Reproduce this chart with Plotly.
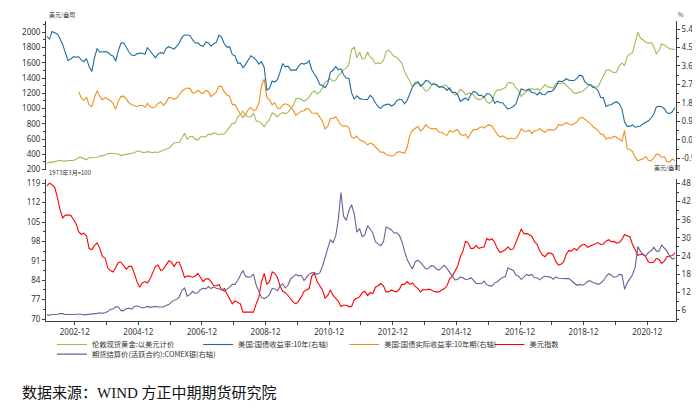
import plotly.graph_objects as go

# ---------------- data (monthly) ----------------
months = [f"{y}-{m:02d}-15" for y in range(2002, 2022) for m in range(1, 13)][:238]
tips_months = months[12:]

gold = [
    282, 296, 294, 303, 314, 321, 313, 310, 319, 317, 319, 333,
    357, 359, 340, 328, 355, 356, 351, 360, 379, 379, 389, 407,
    414, 405, 406, 404, 383, 392, 398, 400, 405, 420, 439, 442,
    424, 423, 434, 429, 422, 430, 424, 438, 456, 470, 476, 510,
    549, 555, 557, 610, 676, 596, 633, 632, 598, 586, 628, 629,
    631, 665, 655, 680, 668, 656, 665, 665, 713, 754, 806, 803,
    889, 922, 968, 909, 888, 890, 939, 839, 830, 806, 760, 816,
    858, 943, 924, 890, 928, 946, 934, 949, 996, 1044, 1127, 1135,
    1118, 1095, 1114, 1149, 1205, 1232, 1193, 1215, 1271, 1343, 1370, 1391,
    1356, 1373, 1424, 1474, 1510, 1529, 1573, 1770, 1810, 1665, 1739, 1652,
    1656, 1742, 1673, 1650, 1585, 1596, 1594, 1626, 1750, 1765, 1722, 1685,
    1671, 1627, 1593, 1487, 1414, 1343, 1286, 1347, 1349, 1316, 1275, 1225,
    1244, 1300, 1336, 1299, 1288, 1279, 1311, 1296, 1239, 1222, 1176, 1200,
    1251, 1227, 1179, 1198, 1199, 1181, 1131, 1117, 1125, 1157, 1086, 1068,
    1097, 1200, 1246, 1242, 1260, 1276, 1337, 1341, 1326, 1267, 1238, 1157,
    1192, 1234, 1231, 1266, 1246, 1260, 1236, 1283, 1314, 1280, 1282, 1265,
    1331, 1331, 1325, 1335, 1303, 1282, 1238, 1202, 1199, 1215, 1221, 1250,
    1291, 1320, 1300, 1285, 1284, 1359, 1413, 1500, 1510, 1495, 1471, 1479,
    1560, 1597, 1560, 1683, 1716, 1732, 1847, 2000, 1921, 1900, 1866, 1858,
    1867, 1808, 1718, 1760, 1850, 1834, 1807, 1785, 1776, 1777,
]

ust10 = [
    5.04, 4.91, 5.28, 5.21, 5.16, 4.93, 4.65, 4.26, 3.87, 3.94, 4.05, 4.03,
    4.05, 3.90, 3.81, 3.96, 3.57, 3.33, 3.98, 4.45, 4.27, 4.29, 4.30, 4.27,
    4.15, 4.08, 3.83, 4.35, 4.72, 4.73, 4.50, 4.28, 4.13, 4.10, 4.19, 4.23,
    4.22, 4.17, 4.50, 4.34, 4.14, 4.00, 4.18, 4.26, 4.20, 4.46, 4.54, 4.47,
    4.42, 4.57, 4.72, 4.99, 5.11, 5.11, 5.09, 4.88, 4.72, 4.73, 4.60, 4.56,
    4.76, 4.72, 4.56, 4.69, 4.75, 5.10, 5.00, 4.67, 4.52, 4.53, 4.15, 4.10,
    3.74, 3.74, 3.51, 3.68, 3.88, 4.10, 4.01, 3.89, 3.69, 3.81, 3.53, 2.42,
    2.52, 2.87, 2.82, 2.93, 3.29, 3.72, 3.56, 3.59, 3.40, 3.39, 3.40, 3.59,
    3.73, 3.69, 3.73, 3.85, 3.42, 3.20, 3.01, 2.70, 2.65, 2.54, 2.76, 3.29,
    3.39, 3.58, 3.41, 3.46, 3.17, 3.00, 3.00, 2.30, 1.98, 2.15, 2.01, 1.98,
    1.97, 1.97, 2.17, 2.05, 1.80, 1.62, 1.53, 1.68, 1.72, 1.75, 1.65, 1.72,
    1.91, 1.98, 1.96, 1.76, 1.93, 2.30, 2.58, 2.74, 2.81, 2.62, 2.72, 2.90,
    2.86, 2.71, 2.72, 2.71, 2.56, 2.60, 2.54, 2.42, 2.53, 2.30, 2.33, 2.21,
    1.88, 1.98, 2.04, 1.94, 2.20, 2.36, 2.32, 2.17, 2.17, 2.07, 2.26, 2.24,
    2.09, 1.78, 1.89, 1.81, 1.81, 1.64, 1.50, 1.56, 1.63, 1.76, 2.14, 2.49,
    2.43, 2.42, 2.48, 2.30, 2.30, 2.19, 2.32, 2.21, 2.20, 2.36, 2.35, 2.40,
    2.58, 2.86, 2.84, 2.87, 2.98, 2.91, 2.89, 2.89, 3.00, 3.15, 3.12, 2.83,
    2.71, 2.68, 2.57, 2.53, 2.40, 2.07, 2.06, 1.63, 1.70, 1.71, 1.81, 1.86,
    1.76, 1.50, 0.87, 0.66, 0.67, 0.73, 0.62, 0.65, 0.68, 0.79, 0.87, 0.93,
    1.08, 1.26, 1.61, 1.64, 1.62, 1.52, 1.32, 1.28, 1.37, 1.58,
]

tips10 = [
    2.35, 2.03, 1.93, 2.09, 1.70, 1.62, 2.05, 2.40, 2.12, 1.96, 2.06, 2.00,
    1.91, 1.77, 1.49, 1.89, 2.12, 2.13, 2.00, 1.79, 1.71, 1.66, 1.63, 1.68,
    1.69, 1.59, 1.78, 1.62, 1.56, 1.62, 1.79, 1.85, 1.68, 1.83, 2.06, 2.05,
    1.97, 2.05, 2.20, 2.39, 2.47, 2.53, 2.51, 2.29, 2.30, 2.42, 2.31, 2.26,
    2.41, 2.35, 2.11, 2.21, 2.33, 2.62, 2.60, 2.34, 2.17, 2.13, 1.72, 1.72,
    1.46, 1.25, 1.10, 1.24, 1.48, 1.58, 1.42, 1.50, 1.77, 2.65, 2.95, 2.07,
    1.95, 1.71, 1.82, 1.55, 1.52, 1.70, 1.76, 1.71, 1.60, 1.45, 1.19, 1.31,
    1.40, 1.42, 1.53, 1.51, 1.31, 1.30, 1.31, 1.11, 0.91, 0.53, 0.67, 1.04,
    1.05, 1.13, 0.94, 0.73, 0.67, 0.69, 0.60, 0.14, 0.08, 0.19, 0.01, -0.04,
    -0.11, -0.25, -0.14, -0.21, -0.34, -0.50, -0.60, -0.59, -0.71, -0.75, -0.78, -0.76,
    -0.61, -0.57, -0.60, -0.65, -0.36, 0.25, 0.46, 0.55, 0.66, 0.43, 0.55, 0.74,
    0.61, 0.55, 0.56, 0.54, 0.37, 0.37, 0.28, 0.22, 0.46, 0.38, 0.45, 0.51,
    0.27, 0.22, 0.28, 0.08, 0.33, 0.50, 0.50, 0.56, 0.65, 0.58, 0.69, 0.73,
    0.67, 0.46, 0.27, 0.14, 0.20, 0.12, 0.04, 0.09, 0.06, 0.07, 0.27, 0.54,
    0.42, 0.42, 0.47, 0.32, 0.44, 0.46, 0.55, 0.45, 0.37, 0.49, 0.50, 0.46,
    0.53, 0.74, 0.71, 0.75, 0.84, 0.77, 0.73, 0.79, 0.88, 1.06, 1.10, 1.01,
    0.91, 0.81, 0.65, 0.55, 0.47, 0.28, 0.27, 0.04, 0.10, 0.08, 0.18, 0.13,
    0.04, -0.06, 0.45, -0.44, -0.45, -0.57, -0.85, -1.02, -0.97, -0.92, -0.81, -1.00,
    -1.02, -0.88, -0.69, -0.71, -0.84, -0.82, -1.06, -1.07, -0.93, -1.01,
]

dxy = [
    118.0, 119.0, 118.5, 117.5, 114.0, 109.5, 106.5, 107.5, 107.5, 107.5, 106.0, 104.5,
    101.5, 100.5, 101.0, 100.0, 95.5, 95.0, 96.5, 97.5, 95.5, 92.5, 92.0, 88.5,
    87.5, 87.0, 88.5, 90.5, 90.5, 89.0, 88.0, 89.0, 89.0, 86.5, 83.5, 81.5,
    83.0, 83.5, 83.0, 84.5, 86.5, 89.0, 89.5, 87.5, 88.0, 89.5, 91.0, 90.5,
    89.0, 90.5, 90.5, 88.0, 85.0, 85.5, 85.5, 85.0, 85.5, 86.5, 85.0, 83.5,
    84.5, 84.5, 83.5, 82.0, 82.0, 82.5, 80.5, 81.0, 79.0, 77.5, 75.5, 76.5,
    76.0, 75.5, 72.5, 72.5, 72.5, 72.5, 72.5, 75.5, 78.0, 83.5, 86.5, 82.5,
    83.5, 87.0, 86.5, 85.0, 82.0, 80.0, 79.5, 78.5, 77.0, 76.0, 75.5, 76.5,
    78.0, 80.0, 80.5, 81.0, 85.5, 86.5, 83.5, 82.0, 80.5, 77.5, 78.5, 80.5,
    78.5, 77.5, 76.5, 74.5, 75.0, 75.0, 74.5, 74.5, 77.0, 77.5, 78.0, 79.5,
    80.0, 78.5, 79.5, 79.2, 81.5, 82.0, 82.8, 82.0, 79.8, 79.8, 80.5, 80.0,
    79.8, 80.8, 82.5, 82.5, 83.5, 82.5, 83.0, 81.8, 81.0, 79.8, 80.7, 80.5,
    80.8, 80.5, 80.0, 79.8, 79.8, 80.5, 80.9, 82.0, 84.5, 85.5, 87.5, 89.0,
    92.5, 94.5, 98.0, 97.5, 95.5, 95.5, 96.5, 95.5, 95.8, 96.0, 99.0, 98.5,
    99.0, 97.5, 95.5, 94.0, 94.5, 95.0, 96.0, 95.0, 95.3, 97.5, 100.0, 102.5,
    100.8, 100.8, 100.5, 99.8, 98.0, 96.9, 94.6, 93.1, 92.5, 93.8, 93.8, 93.2,
    90.8, 89.5, 89.8, 90.6, 93.4, 94.7, 94.6, 95.5, 94.8, 96.0, 96.8, 96.9,
    95.9, 96.4, 96.7, 97.3, 97.6, 96.9, 97.1, 98.1, 98.6, 97.9, 98.0, 97.4,
    97.6, 98.8, 100.5, 100.0, 99.7, 96.9, 95.0, 93.0, 93.3, 93.4, 92.4, 90.6,
    90.3, 90.6, 91.9, 91.5, 90.1, 90.9, 92.5, 92.8, 92.9, 93.9,
]

silver = [
    4.5, 4.4, 4.6, 4.6, 4.7, 4.9, 4.9, 4.6, 4.6, 4.4, 4.6, 4.7,
    4.8, 4.7, 4.5, 4.6, 4.7, 4.6, 4.8, 5.0, 5.2, 5.0, 5.2, 5.6,
    6.3, 6.5, 7.2, 7.1, 5.9, 5.9, 6.6, 6.7, 6.4, 7.2, 7.5, 7.1,
    6.8, 7.0, 7.3, 7.0, 7.2, 7.3, 7.1, 7.0, 7.1, 7.6, 7.9, 8.8,
    9.2, 9.7, 10.4, 12.6, 13.4, 10.7, 11.2, 12.3, 11.6, 11.8, 12.9, 13.3,
    13.1, 13.9, 13.2, 13.7, 13.3, 13.2, 12.9, 12.3, 12.9, 13.7, 14.6, 14.6,
    15.9, 17.7, 19.2, 17.3, 17.0, 17.1, 18.0, 14.4, 12.3, 10.2, 9.9, 10.3,
    11.3, 13.3, 13.1, 12.5, 14.0, 14.8, 13.4, 14.3, 16.4, 17.2, 17.9, 17.4,
    17.6, 15.9, 17.1, 18.0, 18.4, 18.5, 17.9, 18.4, 20.6, 23.2, 26.5, 29.4,
    28.4, 30.8, 35.8, 45.0, 37.2, 35.8, 38.9, 41.0, 37.9, 31.9, 33.1, 30.4,
    31.0, 34.0, 33.0, 31.5, 28.7, 28.0, 27.4, 28.6, 33.6, 33.2, 32.6, 31.6,
    31.7, 30.8, 28.8, 25.5, 22.8, 21.1, 19.7, 22.1, 22.6, 21.9, 20.9, 19.7,
    19.9, 20.8, 20.7, 19.7, 19.3, 20.0, 20.9, 19.8, 18.4, 17.2, 16.1, 16.2,
    17.0, 16.8, 16.2, 16.3, 16.8, 16.0, 14.9, 14.9, 14.8, 15.7, 14.5, 14.1,
    14.1, 15.1, 15.4, 16.3, 16.9, 17.2, 20.0, 19.6, 19.2, 17.7, 17.3, 16.2,
    16.9, 17.9, 17.5, 17.9, 16.8, 16.8, 16.1, 16.9, 17.3, 17.1, 17.0, 16.3,
    17.1, 16.6, 16.5, 16.6, 16.5, 16.5, 15.7, 14.9, 14.3, 14.6, 14.3, 14.7,
    15.6, 15.8, 15.2, 15.0, 14.6, 15.0, 15.8, 17.2, 18.1, 17.6, 17.0, 17.1,
    17.9, 17.8, 13.0, 15.1, 16.4, 17.8, 20.3, 27.1, 25.5, 24.4, 24.0, 25.2,
    25.7, 26.9, 25.6, 25.6, 27.6, 26.6, 25.6, 23.9, 23.0, 23.4,
]

names = [
    "伦敦现货黄金:以美元计价",
    "美国:国债收益率:10年(右轴)",
    "美国:国债实际收益率:10年期(右轴)",
    "美元指数",
    "期货结算价(活跃合约):COMEX银(右轴)",
]

x_ticks_start = "2002-12-01"
top_left_ticks = [200, 400, 600, 800, 1000, 1200, 1400, 1600, 1800, 2000]
top_right_ticks = [-0.9, 0.0, 0.9, 1.8, 2.7, 3.6, 4.5, 5.4]
bot_left_ticks = [70, 77, 84, 91, 98, 105, 112, 119]
bot_right_ticks = [6, 12, 18, 24, 30, 36, 42, 48]

# ---------------- styles ----------------
C_GOLD = "#9fbb58"
C_BLUE = "#1c6c9c"
C_ORANGE = "#f28e1c"
C_RED = "#ff0000"
C_PURPLE = "#6d5f9c"
AX = "#404040"
TICKFONT = dict(family="Noto Sans, Noto Sans CJK SC", size=8, color="#333333")
LEGFONT = dict(family="Noto Sans CJK SC", size=7.3, color="#333333")
LW = 1.1

fig = go.Figure()
fig.add_trace(go.Scatter(x=months, y=gold, name=names[0], xaxis="x2", yaxis="y3",
                         mode="lines", line=dict(color=C_GOLD, width=LW), legend="legend"))
fig.add_trace(go.Scatter(x=months, y=ust10, name=names[1], xaxis="x2", yaxis="y4",
                         mode="lines", line=dict(color=C_BLUE, width=LW), legend="legend2"))
fig.add_trace(go.Scatter(x=tips_months, y=tips10, name=names[2], xaxis="x2", yaxis="y4",
                         mode="lines", line=dict(color=C_ORANGE, width=LW), legend="legend3"))
fig.add_trace(go.Scatter(x=months, y=silver, name=names[4], xaxis="x", yaxis="y2",
                         mode="lines", line=dict(color=C_PURPLE, width=LW), legend="legend5"))
fig.add_trace(go.Scatter(x=months, y=dxy, name=names[3], xaxis="x", yaxis="y",
                         mode="lines", line=dict(color=C_RED, width=LW), legend="legend4"))

def yax(**kw):
    d = dict(showline=True, linecolor=AX, linewidth=1, ticks="outside", ticklen=3,
             tickcolor=AX, tickfont=TICKFONT, showgrid=False, zeroline=False,
             minor=dict(ticks="outside", ticklen=2, tickcolor=AX, showgrid=False))
    d.update(kw)
    return d

def leg(x, y):
    return dict(orientation="h", x=x, y=y, xanchor="left", yanchor="top",
                font=LEGFONT, itemwidth=30, bgcolor="rgba(0,0,0,0)")

x_range = ["2002-01-05", "2021-10-27"]

row1 = -0.030
row2 = -0.0622
fig.update_layout(
    width=700, height=408,
    margin=dict(l=38, r=24, t=12, b=95),
    paper_bgcolor="white", plot_bgcolor="white",
    showlegend=True,
    xaxis=dict(domain=[0, 1], type="date", range=x_range, anchor="y",
               showline=True, linecolor=AX, linewidth=1, ticks="outside", ticklen=3,
               tickcolor=AX, tick0=x_ticks_start, dtick="M24", tickformat="%Y-%m",
               tickfont=TICKFONT, showgrid=False,
               minor=dict(dtick="M12", tick0=x_ticks_start, ticks="outside", ticklen=3,
                          tickcolor=AX, showgrid=False)),
    xaxis2=dict(domain=[0, 1], type="date", range=x_range, anchor="y3", visible=False,
                matches="x"),
    yaxis=yax(domain=[0, 0.475], range=[69.3, 120.7], tickvals=bot_left_ticks,
              anchor="x", side="left", minor_tickvals=[73.5, 80.5, 87.5, 94.5, 101.5, 108.5, 115.5]),
    yaxis2=yax(domain=[0, 0.475], range=[2.47, 49.65], tickvals=bot_right_ticks,
               anchor="x", overlaying="y", side="right",
               minor_tickvals=[3, 9, 15, 21, 27, 33, 39, 45]),
    yaxis3=yax(domain=[0.505, 1], range=[200, 2148], tickvals=top_left_ticks,
               anchor="x2", side="left",
               minor_tickvals=[300, 500, 700, 900, 1100, 1300, 1500, 1700, 1900, 2100]),
    yaxis4=yax(domain=[0.505, 1], range=[-1.44, 5.79], tickvals=top_right_ticks,
               ticktext=[f"{v:.1f}" for v in top_right_ticks],
               anchor="x2", overlaying="y3", side="right",
               minor_tickvals=[-0.45, 0.45, 1.35, 2.25, 3.15, 4.05, 4.95]),
    legend=leg(0.0094, row1),
    legend2=leg(0.2414, row1),
    legend3=leg(0.4734, row1),
    legend4=leg(0.7038, row1),
    legend5=leg(0.0094, row2),
)

ann_font = dict(family="Noto Sans CJK SC", size=6, color="#333333")
fig.add_annotation(text="美元/盎司", xref="paper", yref="paper", x=0.002, y=1.0,
                   xanchor="left", yanchor="bottom", showarrow=False, font=ann_font)
fig.add_annotation(text="%", xref="paper", yref="paper", x=1.0, y=1.0,
                   xanchor="left", yanchor="bottom", showarrow=False, font=ann_font)
fig.add_annotation(text="1973年3月=100", xref="paper", yref="paper", x=0.002, y=0.475,
                   xanchor="left", yanchor="bottom", showarrow=False, font=ann_font)
fig.add_annotation(text="美元/盎司", xref="paper", yref="paper", x=1.01, y=0.49,
                   xanchor="right", yanchor="bottom", showarrow=False, font=ann_font)
fig.add_annotation(text="数据来源：WIND 方正中期期货研究院", xref="paper", yref="paper",
                   x=-0.041, y=-0.2393, xanchor="left", yanchor="middle", showarrow=False,
                   font=dict(family="Liberation Serif, Noto Sans CJK SC", size=15, color="#111111"))

fig.write_html("out.html")
